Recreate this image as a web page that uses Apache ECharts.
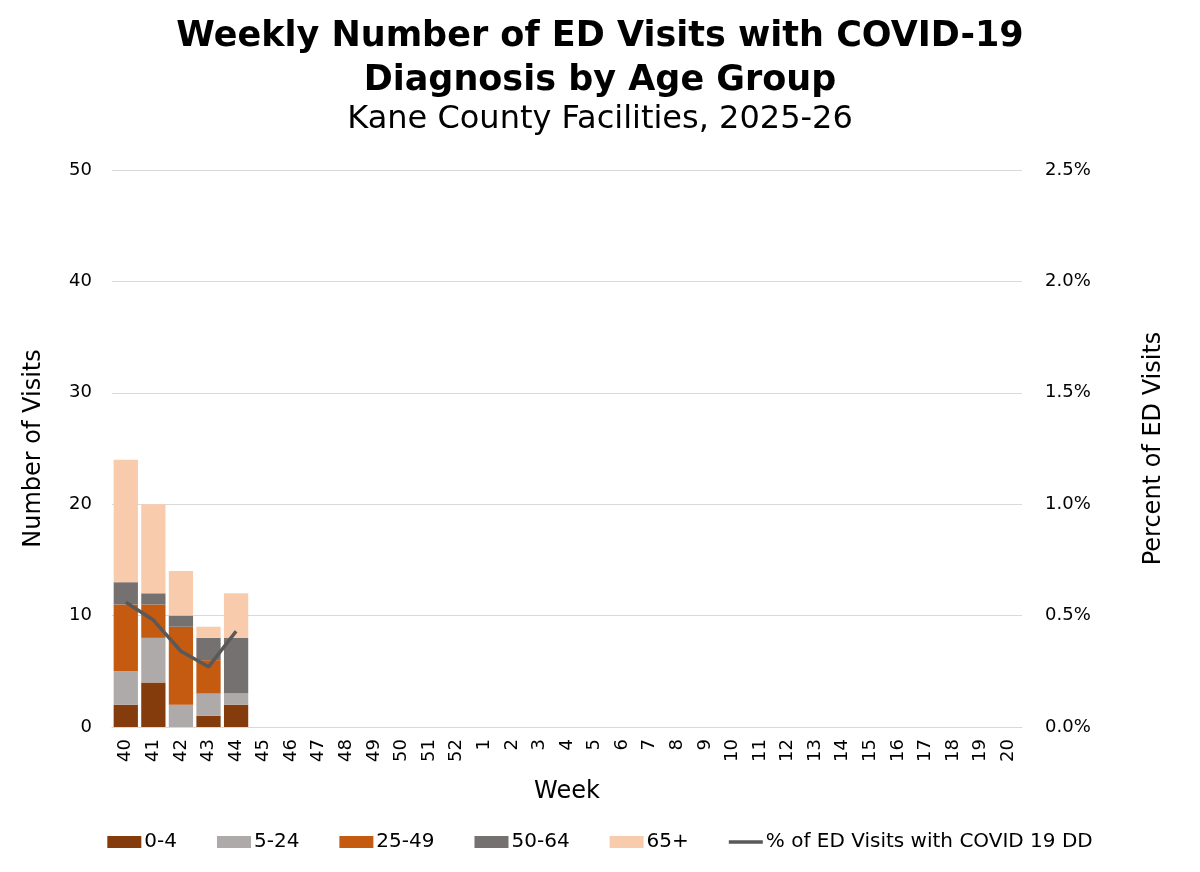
<!DOCTYPE html>
<html><head><meta charset="utf-8">
<script src="https://cdn.jsdelivr.net/npm/echarts@6/dist/echarts.min.js"></script>
<style>html,body{margin:0;padding:0;background:#fff}#c{width:1200px;height:872px}</style>
</head><body><div id="c"></div>
<script>
const weeks = ['40','41','42','43','44','45','46','47','48','49','50','51','52','1','2','3','4','5','6','7','8','9','10','11','12','13','14','15','16','17','18','19','20'];
const age0_4   = [2,4,0,1,2];
const age5_24  = [3,4,2,2,1];
const age25_49 = [6,3,7,3,0];
const age50_64 = [2,1,1,2,5];
const age65p   = [11,8,4,1,4];
const pctED    = [0.56,0.48,0.34,0.27,0.43];

const F = 'DejaVu Sans';
const chart = echarts.init(document.getElementById('c'));
function bar(name, data, color){
  return {name, type:'bar', stack:'a', data, barCategoryGap:'12%',
    itemStyle:{color}, emphasis:{disabled:true}};
}
chart.setOption({
  animation:false,
  textStyle:{fontFamily:F},
  title:[{text:'Weekly Number of ED Visits with COVID-19\nDiagnosis by Age Group', left:'center', top:10,
    textStyle:{fontFamily:F, fontSize:35, fontWeight:'bold', color:'#000', lineHeight:44}},
    {text:'Kane County Facilities, 2025-26', left:'center', top:99,
    textStyle:{fontFamily:F, fontSize:32, fontWeight:'normal', color:'#000'}}],
  grid:{left:112, right:178, top:170, bottom:145, containLabel:false},
  legend:{bottom:15, left:'center', itemWidth:34, itemHeight:12, itemGap:40, icon:'rect',
    textStyle:{fontFamily:F, fontSize:20, color:'#000', padding:[0,0,0,-2]},
    data:['0-4','5-24','25-49','50-64','65+',{name:'% of ED Visits with COVID 19 DD', icon:'path://M0,0H40V4H0Z'}]},
  xAxis:{type:'category', data:weeks, name:'Week', nameLocation:'middle', nameGap:53,
    nameTextStyle:{fontFamily:F, fontSize:24, color:'#000'},
    axisLine:{lineStyle:{color:'#D9D9D9'}}, axisTick:{show:false},
    axisLabel:{rotate:90, fontSize:18, color:'#000', interval:0, margin:12}},
  yAxis:[{type:'value', min:0, max:50, interval:10, name:'Number of Visits', nameLocation:'middle', nameGap:66,
    nameTextStyle:{fontFamily:F, fontSize:24, color:'#000'},
    axisLabel:{fontSize:18, color:'#000', margin:20}, axisLine:{show:false}, axisTick:{show:false},
    splitLine:{lineStyle:{color:'#D9D9D9'}}},
   {type:'value', min:0, max:2.5, interval:0.5, name:'Percent of ED Visits', nameLocation:'middle', nameGap:120,
    nameTextStyle:{fontFamily:F, fontSize:24, color:'#000'},
    axisLabel:{fontSize:18, color:'#000', margin:23, formatter:v=>v.toFixed(1)+'%'}, axisLine:{show:false}, axisTick:{show:false},
    splitLine:{show:false}}],
  series:[bar('0-4',age0_4,'#843C0C'), bar('5-24',age5_24,'#AEAAAA'), bar('25-49',age25_49,'#C55A11'),
    bar('50-64',age50_64,'#767171'), bar('65+',age65p,'#F8CBAD'),
    {name:'% of ED Visits with COVID 19 DD', type:'line', yAxisIndex:1, data:pctED, symbol:'none',
     lineStyle:{color:'#595959', width:3.5}, itemStyle:{color:'#595959'}, emphasis:{disabled:true}}]
});
</script></body></html>
